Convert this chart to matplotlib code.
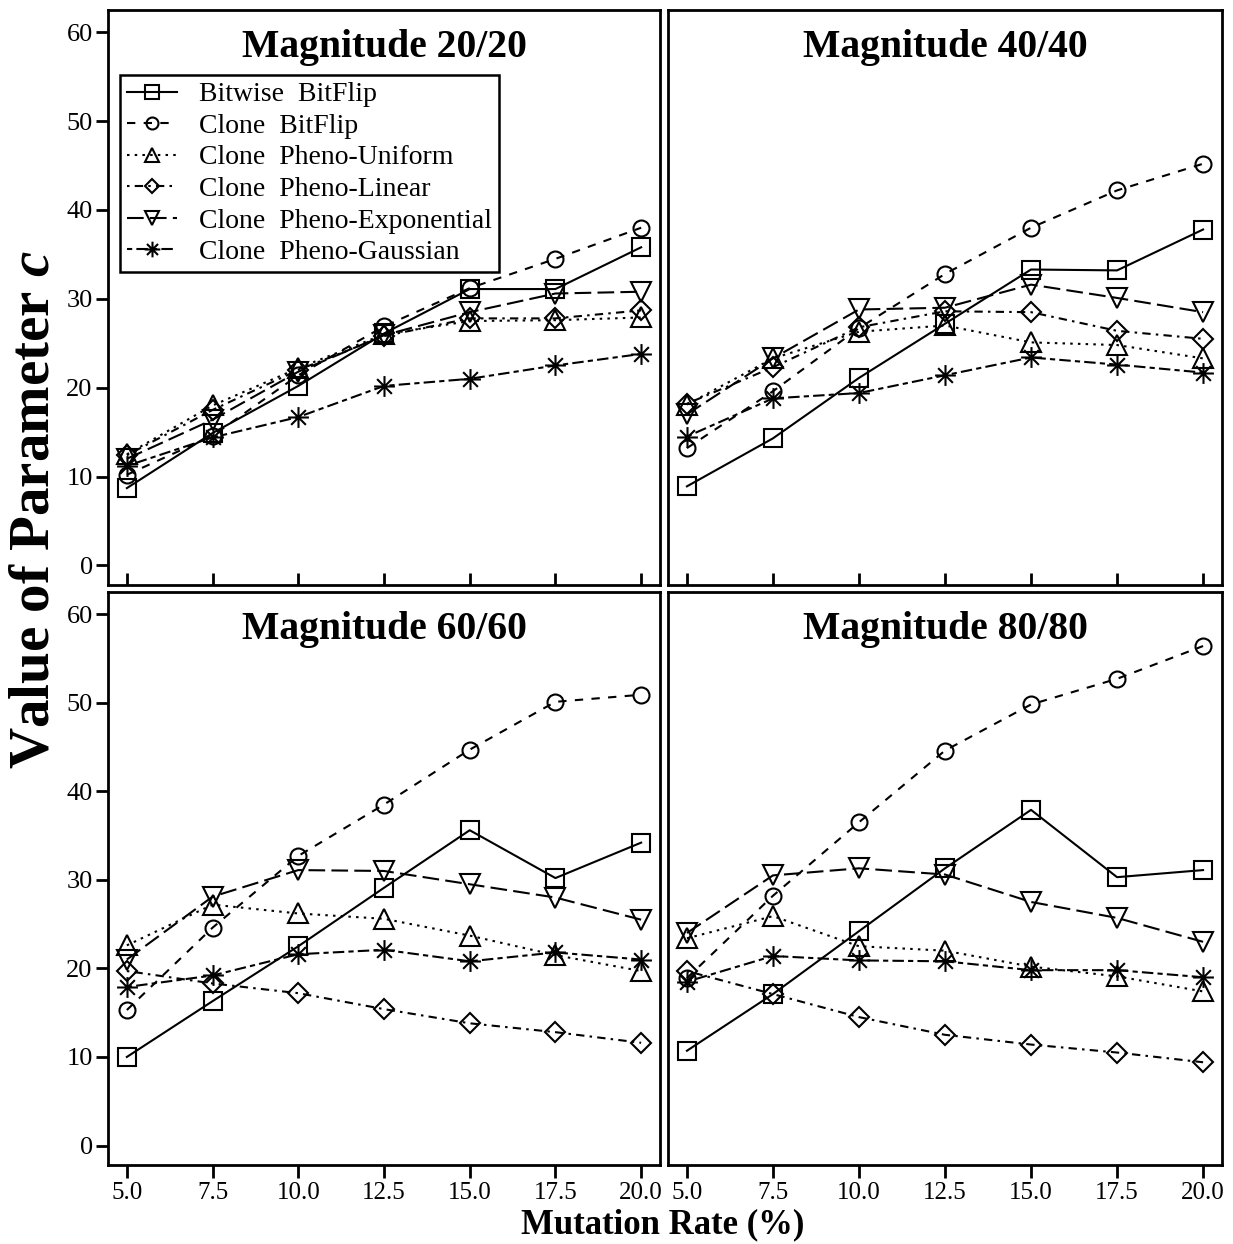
import matplotlib
matplotlib.use("Agg")
import matplotlib.pyplot as plt
from matplotlib.path import Path

plt.rcParams['font.family'] = ['Liberation Serif', 'DejaVu Serif']
plt.rcParams['mathtext.fontset'] = 'custom'
plt.rcParams['mathtext.rm'] = 'Liberation Serif'
plt.rcParams['mathtext.it'] = 'Liberation Serif:italic:bold'
plt.rcParams['mathtext.bf'] = 'Liberation Serif:bold'

mutation_rate = [5.0, 7.5, 10.0, 12.5, 15.0, 17.5, 20.0]
series_names = ["Bitwise  BitFlip", "Clone  BitFlip", "Clone  Pheno-Uniform",
                "Clone  Pheno-Linear", "Clone  Pheno-Exponential", "Clone  Pheno-Gaussian"]
panel_titles = ["Magnitude 20/20", "Magnitude 40/40", "Magnitude 60/60", "Magnitude 80/80"]
y_ticks = [0, 10, 20, 30, 40, 50, 60]
x_ticks = [5.0, 7.5, 10.0, 12.5, 15.0, 17.5, 20.0]

# Magnitude 20/20
bitwise_20 = [8.7, 14.9, 20.2, 26.1, 31.1, 31.1, 35.8]
clone_20 = [10.2, 14.6, 21.4, 26.9, 31.2, 34.5, 38.0]
uniform_20 = [12.5, 18.0, 22.2, 26.0, 27.5, 27.6, 27.9]
linear_20 = [12.4, 17.5, 22.0, 25.8, 27.8, 27.8, 28.7]
expo_20 = [12.0, 16.4, 21.8, 25.9, 28.5, 30.6, 30.8]
gauss_20 = [11.2, 14.4, 16.7, 20.2, 21.0, 22.5, 23.8]

# Magnitude 40/40
bitwise_40 = [8.9, 14.3, 21.1, 27.2, 33.3, 33.2, 37.8]
clone_40 = [13.2, 19.6, 26.7, 32.8, 38.0, 42.2, 45.2]
uniform_40 = [18.1, 23.3, 26.3, 27.0, 25.1, 24.8, 23.3]
linear_40 = [18.2, 22.3, 26.8, 28.6, 28.5, 26.4, 25.5]
expo_40 = [17.0, 23.3, 28.8, 29.0, 31.6, 30.1, 28.5]
gauss_40 = [14.5, 18.8, 19.4, 21.4, 23.4, 22.6, 21.7]

# Magnitude 60/60
bitwise_60 = [10.0, 16.3, 22.5, 29.1, 35.6, 30.2, 34.2]
clone_60 = [15.3, 24.6, 32.7, 38.5, 44.7, 50.1, 50.9]
uniform_60 = [22.6, 27.2, 26.2, 25.6, 23.7, 21.5, 19.7]
linear_60 = [19.7, 18.3, 17.2, 15.4, 13.8, 12.8, 11.6]
expo_60 = [21.0, 28.1, 31.1, 31.0, 29.5, 28.0, 25.5]
gauss_60 = [17.9, 19.2, 21.6, 22.1, 20.8, 21.8, 21.0]

# Magnitude 80/80
bitwise_80 = [10.7, 17.1, 24.2, 31.3, 37.9, 30.3, 31.1]
clone_80 = [18.9, 28.2, 36.5, 44.6, 49.8, 52.7, 56.4]
uniform_80 = [23.4, 25.9, 22.5, 22.0, 20.2, 19.1, 17.4]
linear_80 = [19.7, 17.1, 14.5, 12.5, 11.4, 10.5, 9.4]
expo_80 = [24.0, 30.5, 31.3, 30.6, 27.5, 25.7, 23.0]
gauss_80 = [18.5, 21.4, 20.9, 20.8, 19.8, 19.8, 19.0]

panels = [
    [bitwise_20, clone_20, uniform_20, linear_20, expo_20, gauss_20],
    [bitwise_40, clone_40, uniform_40, linear_40, expo_40, gauss_40],
    [bitwise_60, clone_60, uniform_60, linear_60, expo_60, gauss_60],
    [bitwise_80, clone_80, uniform_80, linear_80, expo_80, gauss_80],
]

# asterisk marker (R pch 8)
d = 0.7071
star_path = Path([(-1, 0), (1, 0), (0, -1), (0, 1), (-d, -d), (d, d), (-d, d), (d, -d)],
                 [Path.MOVETO, Path.LINETO] * 4)

styles = [
    dict(marker='s', ms=13, ls='-'),
    dict(marker='o', ms=11.5, ls=(0, (4, 4))),
    dict(marker='^', ms=14, ls=(0, (1.2, 2.5))),
    dict(marker='D', ms=10, ls=(0, (1.2, 2.5, 4, 2.5))),
    dict(marker='v', ms=14, ls=(0, (8, 3))),
    dict(marker=star_path, ms=15, ls=(0, (2.5, 2, 5.5, 2))),
]

W, H = 1233, 1244
fig = plt.figure(figsize=(W / 100, H / 100), dpi=100)

boxes = [
    (108, 10, 660, 585),
    (668, 10, 1222, 585),
    (108, 592, 660, 1165),
    (668, 592, 1222, 1165),
]

axes = []
for i, (x0, y0, x1, y1) in enumerate(boxes):
    ax = fig.add_axes([x0 / W, 1 - y1 / H, (x1 - x0) / W, (y1 - y0) / H])
    axes.append(ax)
    for s, vals in enumerate(panels[i]):
        st = styles[s]
        ax.plot(mutation_rate, vals, color='black', lw=1.5, linestyle=st['ls'],
                marker=st['marker'], markersize=st['ms'], markerfacecolor='none',
                markeredgecolor='black', markeredgewidth=1.5, label=series_names[s])
    ax.set_xlim(4.45, 20.55)
    ax.set_ylim(-2.2, 62.5)
    for sp in ax.spines.values():
        sp.set_linewidth(2.0)
    ax.set_xticks(x_ticks)
    ax.set_yticks(y_ticks)
    ax.tick_params(width=2.0, length=9, labelsize=18)
    if i < 2:
        ax.tick_params(axis='x', direction='in', labelbottom=False, length=9)
    else:
        ax.tick_params(axis='x', direction='out', pad=3)
        ax.set_xticklabels([f"{v:.1f}" for v in x_ticks])
    if i % 2 == 0:
        ax.tick_params(axis='y', direction='out', pad=2, labelsize=19)
    else:
        ax.tick_params(axis='y', left=False, labelleft=False)
    ax.text(0.5, 0.935, panel_titles[i], transform=ax.transAxes, ha='center', va='center',
            fontsize=28.5, fontweight='bold')

leg = axes[0].legend(loc='upper left', bbox_to_anchor=(0.0217, 0.887), borderaxespad=0,
                     fontsize=20, frameon=True, fancybox=False, edgecolor='black',
                     handlelength=1.8, handletextpad=0.8, labelspacing=0.22,
                     borderpad=0.25, framealpha=1, markerscale=0.75)
leg.get_frame().set_linewidth(1.8)

fig.text(35 / W, 1 - 510 / H, r"Value of Parameter $\mathit{c}$", rotation=90,
         ha='center', va='center', fontsize=41, fontweight='bold')
fig.text(663 / W, 1 - 1225 / H, "Mutation Rate (%)", ha='center', va='center',
         fontsize=25, fontweight='bold')

fig.savefig("out.png", dpi=100)
